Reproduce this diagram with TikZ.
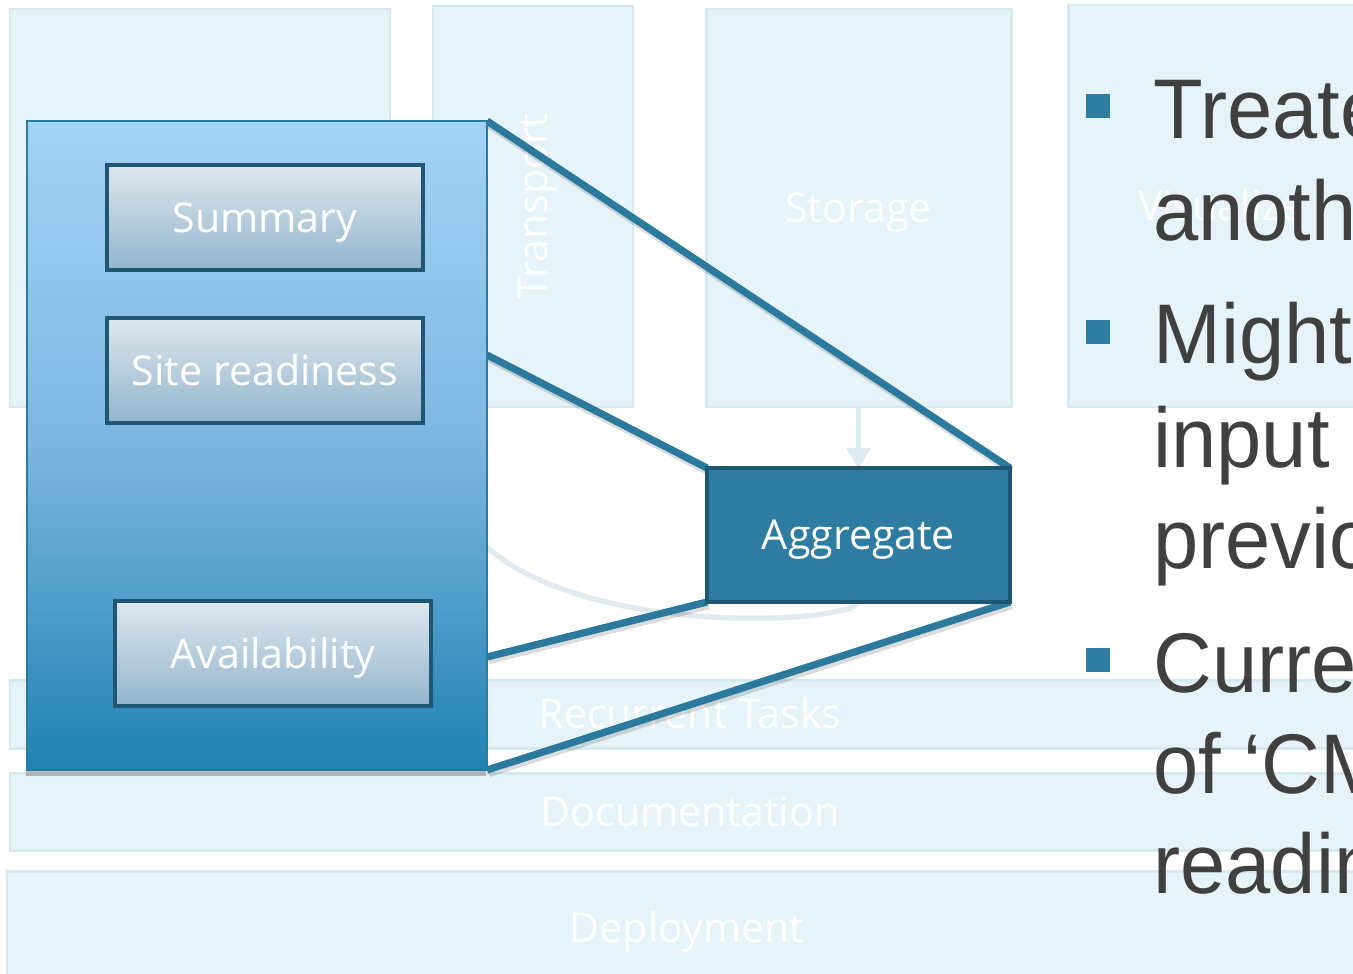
\documentclass[tikz,border=0pt]{standalone}
\usepackage{fontspec}
\setmainfont{Open Sans}
\newfontfamily\bulletfont[FakeStretch=0.96]{Liberation Sans}
\usetikzlibrary{shadows,arrows.meta,calc}

\pgfdeclarelayer{back}
\pgfdeclarelayer{links}
\pgfsetlayers{back,links,main}

\definecolor{fadefill}{HTML}{E6F4F9}
\definecolor{fadeline}{HTML}{D5E9F1}
\definecolor{fadearrow}{HTML}{DCEBF1}
\definecolor{fadecurve}{HTML}{E0EBEF}
\definecolor{paneltop}{HTML}{A3D3F5}
\definecolor{panelmid}{HTML}{7DB6DF}
\definecolor{panelbot}{HTML}{1F82B1}
\definecolor{panelrim}{HTML}{2A7BA0}
\definecolor{cardtop}{HTML}{DDE7EE}
\definecolor{cardbot}{HTML}{93B5CC}
\definecolor{cardrim}{HTML}{1E5673}
\definecolor{aggfill}{HTML}{2E7CA1}
\definecolor{aggrim}{HTML}{1D5672}
\definecolor{zoomline}{HTML}{2B7A9E}
\definecolor{bullettext}{HTML}{404040}

\begin{document}
\begin{tikzpicture}[x=0.02cm,y=-0.02cm,
  labeltext/.style={text=white, font=\fontsize{23.4}{28}\selectfont,
    text height=16.7pt, text depth=0pt},
  fadebox/.style={draw=fadeline, fill=fadefill, line width=1.7pt,
    anchor=north west, inner sep=0pt, outer sep=0pt, labeltext},
  fadelabel/.style={inner sep=0pt, labeltext},
  card/.style={draw=cardrim, line width=2.4pt, top color=cardtop, bottom color=cardbot,
    anchor=north west, inner sep=0pt, outer sep=0pt,
    minimum width=316*0.02cm, minimum height=105*0.02cm, labeltext,
    drop shadow={shadow xshift=0.8pt, shadow yshift=-1.2pt, opacity=0.35}},
  panel/.style={draw=panelrim, line width=1.1pt,
    top color=paneltop, bottom color=panelbot, middle color=panelmid,
    anchor=north west, inner sep=0pt, outer sep=0pt,
    minimum width=460*0.02cm, minimum height=649*0.02cm,
    drop shadow={shadow xshift=-0.8pt, shadow yshift=-3.2pt, opacity=0.5}},
  aggbox/.style={draw=aggrim, fill=aggfill, line width=2.6pt,
    anchor=north west, inner sep=0pt, outer sep=0pt,
    minimum width=303*0.02cm, minimum height=134*0.02cm, labeltext},
  zoom/.style={draw=zoomline, line width=4.1pt},
  zoomshade/.style={draw=black, opacity=0.14, line width=5pt,
    transform canvas={xshift=0.9pt, yshift=-1.6pt}},
  bulletsq/.style={fill=aggfill, inner sep=0pt, minimum size=24*0.02cm},
  bline/.style={anchor=base west, inner sep=0pt, text=bullettext,
    font=\bulletfont\fontsize{48.2}{57}\selectfont}
]
\clip (0,0) rectangle (1353,974);

\begin{pgfonlayer}{back}
\fill[white] (0,0) rectangle (1353,974);
% faded architecture blocks in the background
\node[fadebox, minimum width=380*0.02cm, minimum height=398*0.02cm] (ingest) at (10,9) {};
\node[fadebox, minimum width=200*0.02cm, minimum height=401*0.02cm] (transport) at (433,6) {};
\node[fadelabel, rotate=90] (transportlabel) at (transport.center) {Transport};
\node[fadebox, minimum width=305*0.02cm, minimum height=398*0.02cm] (storage) at (706,9) {Storage};
\node[fadebox, minimum width=306*0.02cm, minimum height=402*0.02cm] (visualize) at (1068,5) {Visualize};
\node[fadebox, minimum width=1360*0.02cm, minimum height=68*0.02cm] (recurrent) at (10,680) {Recurrent Tasks};
\node[fadebox, minimum width=1360*0.02cm, minimum height=77*0.02cm] (documentation) at (10,773) {Documentation};
\node[fadebox, minimum width=1360*0.02cm, minimum height=114*0.02cm] (deployment) at (7,871) {Deployment};
\end{pgfonlayer}

% panel of collected views
\node[panel] (panel) at (27,121) {};
\node[card] (summary) at (107,165) {Summary};
\node[card] (site) at (107,318) {Site readiness};
\node[card] (avail) at (115,601) {Availability};

% aggregate block
\node[aggbox] (agg) at (707,468) {Aggregate};

% faded links behind the panel and the aggregate block
\begin{pgfonlayer}{links}
\coordinate (curveend) at (470,530);
\draw[fadecurve, line width=3pt] (agg.south) .. controls (850,625) and (560,640) .. (curveend);
\draw[fadearrow, line width=3.4pt, -{Triangle[width=13.6pt,length=11.3pt]}]
  (storage.south) -- (agg.north);
\end{pgfonlayer}

% zoom lines from the panel to the aggregate block
\coordinate (p2) at (panel.east |- 0,355);
\coordinate (p3) at (panel.east |- 0,657);
\begin{pgfonlayer}{links}
\draw[zoomshade] (panel.north east) -- (agg.north east);
\draw[zoomshade] (p2) -- (agg.north west);
\draw[zoomshade] (p3) -- (agg.south west);
\draw[zoomshade] (panel.south east) -- (agg.south east);
\draw[zoom] (panel.north east) -- (agg.north east);
\draw[zoom] (p2) -- (agg.north west);
\draw[zoom] (p3) -- (agg.south west);
\draw[zoom] (panel.south east) -- (agg.south east);
\end{pgfonlayer}

% bullet list
\node[bulletsq] (b1) at (1098,106) {};
\node[bulletsq] (b2) at (1098,332) {};
\node[bulletsq] (b3) at (1098,660) {};
\node[bline] (t1) at (1153,138) {Treated as};
\node[bline] (t2) at (1153,240) {another};
\node[bline] (t3) at (1153,363) {Might use};
\node[bline] (t4) at (1153,467) {input from};
\node[bline] (t5) at (1153,568) {previous};
\node[bline] (t6) at (1153,692) {Currently};
\node[bline] (t7) at (1153,793) {of ‘CMS};
\node[bline] (t8) at (1153,893) {readiness};
\end{tikzpicture}
\end{document}
